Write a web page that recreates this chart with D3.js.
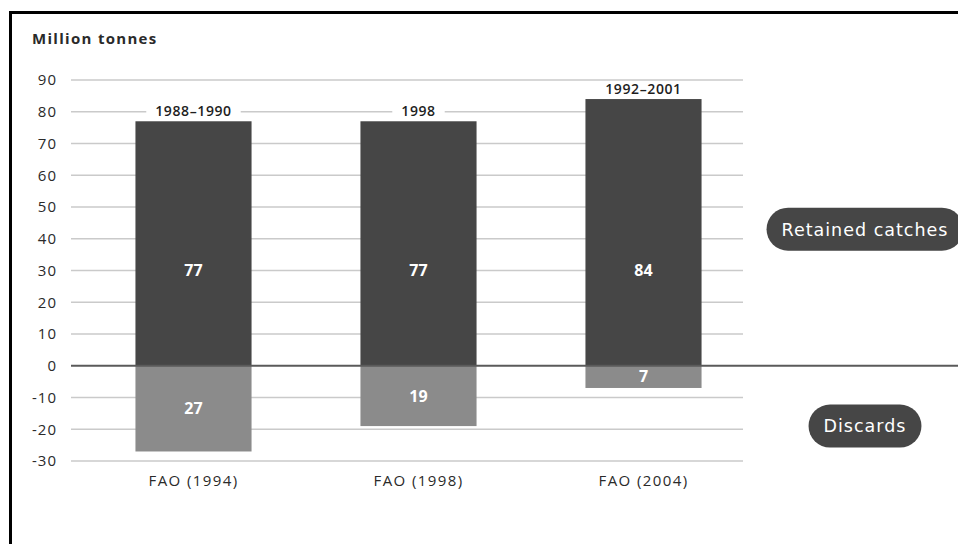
<!DOCTYPE html>
<html>
<head>
<meta charset="utf-8">
<script src="https://cdn.jsdelivr.net/npm/d3@7"></script>
<style>
  html, body { margin: 0; padding: 0; background: #ffffff; }
  svg { display: block; }
</style>
</head>
<body>
<svg id="chart" width="958" height="544"></svg>
<script>
// Global marine catches: retained vs discarded, by FAO assessment
const sources = ["FAO (1994)", "FAO (1998)", "FAO (2004)"];
const periods = ["1988–1990", "1998", "1992–2001"];
const retained = [77, 77, 84];
const discards = [27, 19, 7];
const yTicks = [-30, -20, -10, 0, 10, 20, 30, 40, 50, 60, 70, 80, 90];
const unitLabel = "Million tonnes";
const legendLabels = ["Retained catches", "Discards"];

const svg = d3.select("#chart");
const W = 958, H = 544;
const font = "'Open Sans', 'Noto Sans', sans-serif";

svg.append("rect").attr("width", W).attr("height", H).attr("fill", "#ffffff");

const y = d3.scaleLinear().domain([-30, 90]).range([461, 80]);
const x = d3.scaleBand().domain(sources).range([81, 756])
  .paddingInner(0.484).paddingOuter(0.242);

const gridLeft = 71, gridRight = 743;

// gridlines
svg.append("g").selectAll("line")
  .data(yTicks.filter(d => d !== 0))
  .join("line")
  .attr("x1", gridLeft).attr("x2", gridRight)
  .attr("y1", d => y(d)).attr("y2", d => y(d))
  .attr("stroke", "#cacaca").attr("stroke-width", 1.5);

// y axis tick labels (plain hyphen for negatives)
const yAxis = d3.axisLeft(y).tickValues(yTicks).tickSize(0).tickPadding(0)
  .tickFormat(d => String(d));
const gAxis = svg.append("g").attr("transform", "translate(57,0)").call(yAxis);
gAxis.select(".domain").remove();
gAxis.selectAll("text")
  .attr("font-family", font).attr("font-size", 15)
  .attr("letter-spacing", "1px")
  .attr("fill", "#2a2a2a");

// unit label
svg.append("text")
  .attr("x", 32).attr("y", 44)
  .attr("font-family", font).attr("font-size", 15).attr("font-weight", 700)
  .attr("letter-spacing", "1.3px")
  .attr("fill", "#2a2a2a").text(unitLabel);

// retained catch bars
svg.append("g").selectAll("rect")
  .data(sources)
  .join("rect")
  .attr("x", d => x(d)).attr("width", x.bandwidth())
  .attr("y", (d, i) => y(retained[i]))
  .attr("height", (d, i) => y(0) - y(retained[i]))
  .attr("fill", "#464646");

// discard bars
svg.append("g").selectAll("rect")
  .data(sources)
  .join("rect")
  .attr("x", d => x(d)).attr("width", x.bandwidth())
  .attr("y", y(0))
  .attr("height", (d, i) => y(-discards[i]) - y(0))
  .attr("fill", "#8b8b8b");

// zero line
svg.append("line")
  .attr("x1", gridLeft).attr("x2", W)
  .attr("y1", y(0)).attr("y2", y(0))
  .attr("stroke", "#5a5a5a").attr("stroke-width", 2);

// period labels above bars, knocking out the gridline behind them
const pg = svg.append("g");
sources.forEach((s, i) => {
  const cx = x(s) + x.bandwidth() / 2;
  const base = y(retained[i]) - 5;
  const t = pg.append("text")
    .attr("x", cx).attr("y", base)
    .attr("text-anchor", "middle")
    .attr("font-family", font).attr("font-size", 14).attr("font-weight", 600)
    .attr("letter-spacing", "0.6px")
    .attr("fill", "#1e1e1e").text(periods[i]);
  const bb = t.node().getBBox();
  pg.insert("rect", "text")
    .attr("x", bb.x - 9).attr("y", base - 11)
    .attr("width", bb.width + 18).attr("height", 12)
    .attr("fill", "#ffffff");
});

// value labels
svg.append("g").selectAll("text")
  .data(sources)
  .join("text")
  .attr("x", d => x(d) + x.bandwidth() / 2)
  .attr("y", y(30))
  .attr("dy", "0.35em")
  .attr("text-anchor", "middle")
  .attr("font-family", font).attr("font-size", 16).attr("font-weight", 700)
  .attr("fill", "#ffffff")
  .text((d, i) => retained[i]);

svg.append("g").selectAll("text")
  .data(sources)
  .join("text")
  .attr("x", d => x(d) + x.bandwidth() / 2)
  .attr("y", (d, i) => y(-discards[i] / 2))
  .attr("dy", "0.35em")
  .attr("text-anchor", "middle")
  .attr("font-family", font).attr("font-size", 16).attr("font-weight", 700)
  .attr("fill", "#ffffff")
  .text((d, i) => discards[i]);

// category labels
svg.append("g").selectAll("text")
  .data(sources)
  .join("text")
  .attr("x", d => x(d) + x.bandwidth() / 2)
  .attr("y", 486)
  .attr("text-anchor", "middle")
  .attr("font-family", font).attr("font-size", 15)
  .attr("letter-spacing", "1.4px")
  .attr("fill", "#2a2a2a")
  .text(d => d);

// series labels as pills beside the bars
const pillCy = [y(43), y(-19)];
const pillCx = 865;
legendLabels.forEach((lab, i) => {
  const g = svg.append("g");
  const t = g.append("text")
    .attr("x", pillCx).attr("y", pillCy[i])
    .attr("dy", "0.36em")
    .attr("text-anchor", "middle")
    .attr("font-family", "'DejaVu Sans', sans-serif").attr("font-size", 17.5)
    .attr("letter-spacing", "1px")
    .attr("fill", "#ffffff").text(lab);
  const w = t.node().getComputedTextLength() + 30;
  const h = 43;
  g.insert("rect", "text")
    .attr("x", pillCx - w / 2).attr("y", pillCy[i] - h / 2)
    .attr("width", w).attr("height", h)
    .attr("rx", h / 2).attr("ry", h / 2)
    .attr("fill", "#464646");
});

// frame
svg.append("line").attr("x1", 9).attr("x2", W).attr("y1", 12.5).attr("y2", 12.5)
  .attr("stroke", "#000").attr("stroke-width", 3);
svg.append("line").attr("x1", 10.5).attr("x2", 10.5).attr("y1", 11).attr("y2", H)
  .attr("stroke", "#000").attr("stroke-width", 3);
</script>
</body>
</html>
